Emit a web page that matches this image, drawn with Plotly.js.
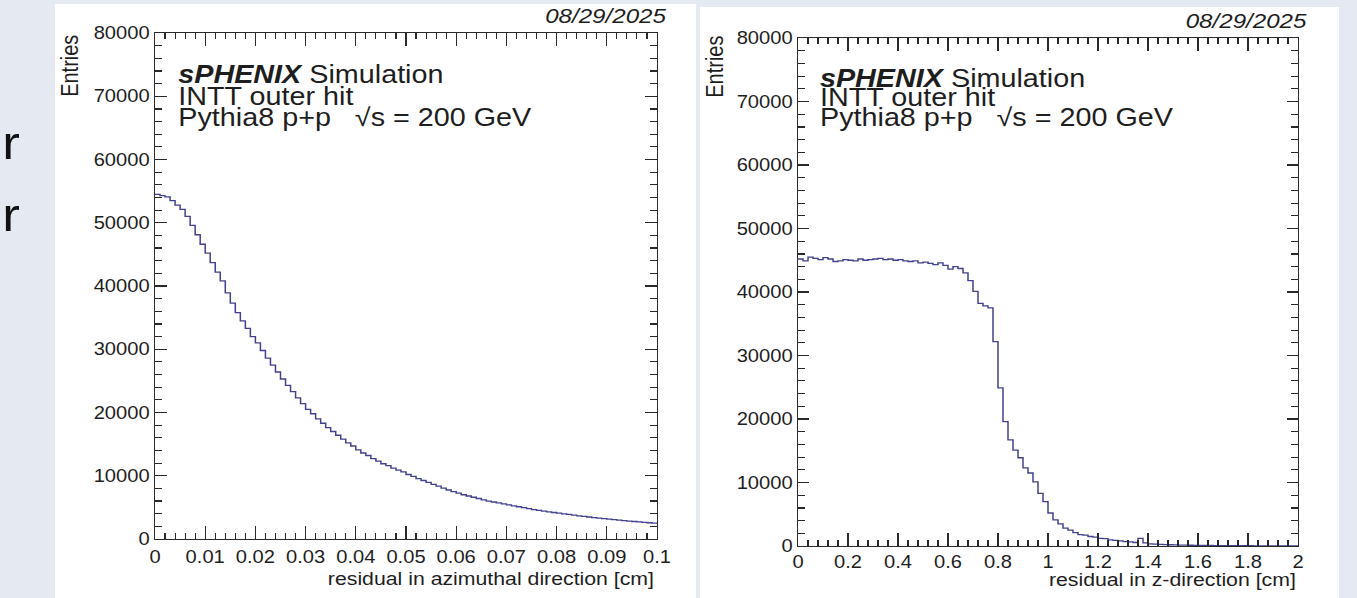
<!DOCTYPE html>
<html>
<head>
<meta charset="utf-8">
<script src="https://cdn.plot.ly/plotly-3.0.1.min.js"></script>
<style>
  html, body { margin:0; padding:0; overflow:hidden; background:#e5eaf2; }
  #wrap { width:1180px; height:598px; transform:scaleX(1.15); transform-origin:0 0; }
  #plot { width:1180px; height:598px; }
</style>
</head>
<body>
<div id="wrap"><div id="plot"></div></div>
<script>
// ---------------- data ----------------
const phiRange = [0, 0.1];
const phiBinWidth = 0.001;
const phiEntries = [
  54500, 54300, 54100, 53500, 52800, 52100, 51000, 49600, 48100, 46600,
  45200, 43700, 42200, 40800, 38900, 37300, 35800, 34500, 33300, 32000,
  31000, 29800, 28600, 27500, 26400, 25300, 24300, 23300, 22300, 21400,
  20500, 19800, 19000, 18300, 17600, 17000, 16400, 15800, 15200, 14700,
  14100, 13600, 13200, 12700, 12300, 11900, 11600, 11200, 10900, 10600,
  10200, 9900, 9550, 9250, 8950, 8650, 8350, 8050, 7750, 7500,
  7250, 7000, 6800, 6600, 6400, 6200, 6000, 5850, 5700, 5550,
  5400, 5250, 5100, 4950, 4800, 4650, 4520, 4410, 4300, 4190,
  4090, 3980, 3880, 3770, 3670, 3570, 3480, 3390, 3300, 3220,
  3140, 3060, 2980, 2910, 2840, 2770, 2700, 2640, 2570, 2510
];
const zRange = [0, 2];
const zBinWidth = 0.02;
const zEntries = [
  45200, 44900, 45500, 45300, 45100, 45400, 45200, 44800, 44900, 45100,
  45000, 44900, 45200, 45000, 45100, 45200, 45300, 45100, 45200, 45000,
  45100, 44900, 44800, 44900, 44600, 44700, 44500, 44300, 44600, 44200,
  43600, 44000, 43700, 43000, 41800, 40100, 38200, 37800, 37500, 32200,
  24900, 19600, 16700, 15100, 13900, 12300, 11500, 10100, 8300, 7000,
  5200, 4100, 3500, 2800, 2500, 2100, 1800, 1700, 1500, 1400,
  1200, 1150, 950, 900, 800, 700, 650, 550, 1200, 500,
  350, 300, 250, 220, 200, 180, 150, 130, 120, 100,
  90, 85, 80, 70, 65, 60, 55, 50, 45, 40,
  38, 35, 32, 30, 28, 25, 22, 20, 20, 18
];
const yTickVals = [0, 10000, 20000, 30000, 40000, 50000, 60000, 70000, 80000];
const yTickText = ['0', '10000', '20000', '30000', '40000', '50000', '60000', '70000', '80000'];
const phiTickVals = [0, 0.01, 0.02, 0.03, 0.04, 0.05, 0.06, 0.07, 0.08, 0.09, 0.1];
const phiTickText = ['0', '0.01', '0.02', '0.03', '0.04', '0.05', '0.06', '0.07', '0.08', '0.09', '0.1'];
const zTickVals = [0, 0.2, 0.4, 0.6, 0.8, 1, 1.2, 1.4, 1.6, 1.8, 2];
const zTickText = ['0', '0.2', '0.4', '0.6', '0.8', '1', '1.2', '1.4', '1.6', '1.8', '2'];
const dateText = '08/29/2025';
const labelLines = ['<b><i>sPHENIX</i></b> Simulation', 'INTT outer hit',
  'Pythia8 p+p\u00a0\u00a0\u00a0\u221as = 200 GeV'];
const phiTitle = 'residual in azimuthal direction [cm]';
const zTitle = 'residual in z-direction [cm]';
const yTitle = 'Entries';

// ---------------- helpers ----------------
const S = 1.15, W = 1180, H = 598;
const X = px => px / S / W;
const Y = py => 1 - py / H;

function steps(range, bw, vals) {
  const xs = [], ys = [];
  for (let i = 0; i <= vals.length; i++) {
    xs.push(range[0] + i * bw);
    ys.push(vals[Math.min(i, vals.length - 1)]);
  }
  return {xs, ys};
}
const sPhi = steps(phiRange, phiBinWidth, phiEntries);
const sZ = steps(zRange, zBinWidth, zEntries);

const lineCol = '#41418e';
const traces = [
  {x: sPhi.xs, y: sPhi.ys, type: 'scatter', mode: 'lines', line: {shape: 'hv', color: lineCol, width: 1.3},
   xaxis: 'x', yaxis: 'y', hoverinfo: 'skip', showlegend: false},
  {x: sZ.xs, y: sZ.ys, type: 'scatter', mode: 'lines', line: {shape: 'hv', color: lineCol, width: 1.3},
   xaxis: 'x2', yaxis: 'y2', hoverinfo: 'skip', showlegend: false}
];

const FONT = 'Liberation Sans, Arial, Helvetica, sans-serif';
const txtCol = '#1e1e1e';
const axCol = '#2a2a2a';

function xAxis(dom, range, tv, tt, minorDt, standoff) {
  return {
    domain: dom, range: range, tickmode: 'array', tickvals: tv, ticktext: tt,
    ticks: 'inside', ticklen: 13, tickwidth: 1, tickcolor: axCol,
    showline: true, linecolor: axCol, linewidth: 1.2, mirror: 'allticks',
    showgrid: false, zeroline: false, ticklabelstandoff: standoff,
    tickfont: {family: FONT, size: 17.5, color: txtCol},
    minor: {dtick: minorDt, tick0: 0, ticks: 'inside', ticklen: 6, tickwidth: 1, tickcolor: axCol, showgrid: false},
    fixedrange: true
  };
}
function yAxis(dom, anchor) {
  return {
    domain: dom, range: [0, 80000], tickmode: 'array', tickvals: yTickVals, ticktext: yTickText,
    ticks: 'inside', ticklen: 10, tickwidth: 1.2, tickcolor: axCol,
    showline: true, linecolor: axCol, linewidth: 1.2, mirror: 'allticks',
    showgrid: false, zeroline: false, anchor: anchor,
    tickfont: {family: FONT, size: 17.5, color: txtCol},
    minor: {dtick: 2000, tick0: 0, ticks: 'inside', ticklen: 5.8, tickwidth: 1.2, tickcolor: axCol, showgrid: false},
    fixedrange: true
  };
}

const ann = [];
function addText(text, px, py, xa, ya, size, extra) {
  ann.push(Object.assign({text: text, xref: 'paper', yref: 'paper', x: X(px), y: Y(py),
    xanchor: xa, yanchor: ya, showarrow: false, font: {family: FONT, size: size, color: txtCol}}, extra || {}));
}
// left panel
addText('<i>' + dateText + '</i>', 668, 16, 'right', 'middle', 21);
addText(labelLines[0], 176, 74, 'left', 'middle', 25);
addText(labelLines[1], 176, 96, 'left', 'middle', 25);
addText(labelLines[2], 176, 117, 'left', 'middle', 25);
addText(yTitle, 70, 33, 'center', 'top', 20, {textangle: -90});
addText(phiTitle, 657, 578, 'right', 'middle', 18.5);
// right panel
addText('<i>' + dateText + '</i>', 1309, 21, 'right', 'middle', 21);
addText(labelLines[0], 818, 78, 'left', 'middle', 25);
addText(labelLines[1], 818, 97, 'left', 'middle', 25);
addText(labelLines[2], 818, 117, 'left', 'middle', 25);
addText(yTitle, 715, 34, 'center', 'top', 20, {textangle: -90});
addText(zTitle, 1298, 579, 'right', 'middle', 18.5);
// slide text fragments at the left edge
addText('r', 0, 143, 'left', 'middle', 46, {font: {family: FONT, size: 46, color: '#111'}});
addText('r', 0, 215, 'left', 'middle', 46, {font: {family: FONT, size: 46, color: '#111'}});

const shapes = [
  {type: 'rect', xref: 'paper', yref: 'paper', x0: X(55), x1: X(696), y0: -0.02, y1: Y(4),
   fillcolor: '#ffffff', line: {width: 0}, layer: 'below'},
  {type: 'rect', xref: 'paper', yref: 'paper', x0: X(700), x1: X(1339), y0: -0.02, y1: Y(7),
   fillcolor: '#ffffff', line: {width: 0}, layer: 'below'}
];

const layout = {
  width: W, height: H, autosize: false,
  margin: {l: 0, r: 0, t: 0, b: 0, pad: 0},
  paper_bgcolor: '#e5eaf2', plot_bgcolor: '#ffffff',
  showlegend: false,
  xaxis: xAxis([X(155), X(657)], phiRange, phiTickVals, phiTickText, 0.002, 2),
  yaxis: yAxis([Y(539), Y(33)], 'x'),
  xaxis2: Object.assign(xAxis([X(798), X(1298)], zRange, zTickVals, zTickText, 0.04, 0), {anchor: 'y2'}),
  yaxis2: yAxis([Y(546), Y(38)], 'x2'),
  annotations: ann,
  shapes: shapes
};
layout.xaxis.anchor = 'y';

Plotly.newPlot('plot', traces, layout, {staticPlot: true, displayModeBar: false});
</script>
</body>
</html>
